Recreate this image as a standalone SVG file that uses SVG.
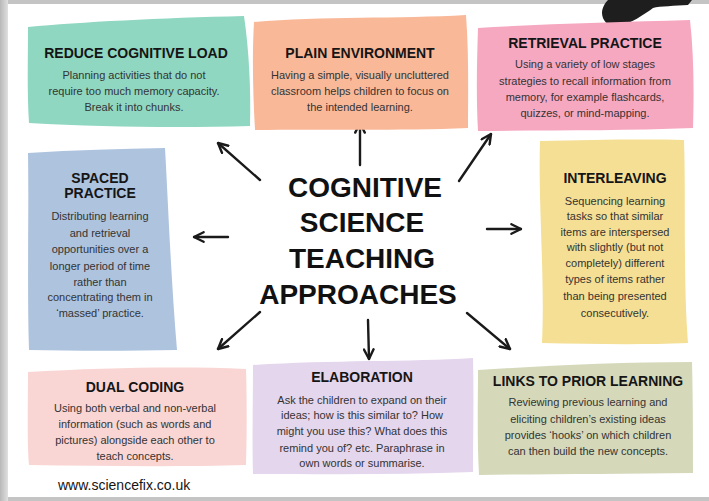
<svg xmlns="http://www.w3.org/2000/svg" width="709" height="501" viewBox="0 0 709 501">
<defs>
<style>
.ttl{font-family:"Liberation Sans",Arial,sans-serif;font-weight:bold;font-size:14px;fill:#151515;text-anchor:middle}
.bd{font-family:"Liberation Sans",Arial,sans-serif;font-size:11px;fill:#333;text-anchor:middle}
.big{font-family:"Liberation Sans",Arial,sans-serif;font-weight:bold;font-size:28px;fill:#111;text-anchor:middle}
.web{font-family:"Liberation Sans",Arial,sans-serif;font-size:14px;fill:#151515}
.arr{fill:none;stroke:#1a1a1a;stroke-width:2.4;stroke-linecap:round;marker-end:url(#ah)}
</style>
<marker id="ah" viewBox="0 0 10 10" refX="9" refY="5" markerWidth="12" markerHeight="12" orient="auto" markerUnits="userSpaceOnUse">
<path d="M1,1 L9,5 L1,9" fill="none" stroke="#1a1a1a" stroke-width="2" stroke-linecap="round" stroke-linejoin="round"/>
</marker>
<linearGradient id="lg" x1="0" y1="0" x2="1" y2="0">
<stop offset="0" stop-color="#b8b8b8"/><stop offset="1" stop-color="#e0e0e0"/>
</linearGradient>
</defs>
<rect x="0" y="0" width="709" height="501" fill="#c4c4c4"/>
<rect x="0" y="0" width="8" height="501" fill="url(#lg)"/>
<rect x="8" y="4" width="701" height="493" fill="#ffffff"/>
<path d="M608,0 L692,0 L688,5 C675,6 660,6 653,8 C645,14 630,24 617,27 C608,27 602,20 602,13 C602,8 605,3 608,0 Z" fill="#1e1e1e"/>

<g id="connectors">
<line class="arr" x1="260" y1="180" x2="218" y2="143"/>
<line class="arr" x1="360" y1="165" x2="360" y2="123"/>
<line class="arr" x1="459" y1="181" x2="491" y2="134"/>
<line class="arr" x1="487" y1="229" x2="521" y2="229"/>
<line class="arr" x1="228" y1="237" x2="194" y2="237"/>
<line class="arr" x1="260" y1="312" x2="218" y2="349"/>
<line class="arr" x1="368" y1="320" x2="369" y2="359"/>
<line class="arr" x1="467" y1="313" x2="510" y2="349"/>
</g>

<g id="center">
<text class="big" x="365" y="197">COGNITIVE</text>
<text class="big" x="362" y="232">SCIENCE</text>
<text class="big" x="362" y="268">TEACHING</text>
<text class="big" x="358" y="304">APPROACHES</text>
</g>

<g id="reduce-cognitive-load">
<path d="M28,27 C80,22 160,18 244,16 C249,50 251,90 250,126 C180,128 100,127 29,123 C27,90 28,60 28,27 Z" fill="#8fd7c0"/>
<text class="ttl" x="136" y="58">REDUCE COGNITIVE LOAD</text>
<text class="bd" x="134" y="79">Planning activities that do not</text>
<text class="bd" x="134" y="95">require too much memory capacity.</text>
<text class="bd" x="134" y="111">Break it into chunks.</text>
</g>

<g id="plain-environment">
<path d="M254,22 C320,16 400,19 466,15 C469,55 468,95 468,128 C400,131 320,129 255,130 C253,95 252,55 254,22 Z" fill="#f9b999"/>
<text class="ttl" x="360" y="58">PLAIN ENVIRONMENT</text>
<text class="bd" x="360" y="79">Having a simple, visually uncluttered</text>
<text class="bd" x="360" y="95">classroom helps children to focus on</text>
<text class="bd" x="360" y="111">the intended learning.</text>
</g>

<g id="retrieval-practice">
<path d="M478,28 C540,24 620,22 690,20 C694,55 694,95 693,128 C620,131 550,130 478,131 C476,95 477,60 478,28 Z" fill="#f7a8c1"/>
<text class="ttl" x="585" y="48">RETRIEVAL PRACTICE</text>
<text class="bd" x="585" y="68">Using a variety of low stages</text>
<text class="bd" x="585" y="85">strategies to recall information from</text>
<text class="bd" x="585" y="101">memory, for example flashcards,</text>
<text class="bd" x="585" y="117">quizzes, or mind-mapping.</text>
</g>

<g id="spaced-practice">
<path d="M28,153 C75,150 120,149 165,148 C168,200 171,280 177,350 C130,351 75,351 29,350 C27,290 29,210 28,153 Z" fill="#aec3de"/>
<text class="ttl" x="100" y="183">SPACED</text>
<text class="ttl" x="100" y="198">PRACTICE</text>
<text class="bd" x="100" y="220">Distributing learning</text>
<text class="bd" x="100" y="237">and retrieval</text>
<text class="bd" x="100" y="253">opportunities over a</text>
<text class="bd" x="100" y="270">longer period of time</text>
<text class="bd" x="100" y="286">rather than</text>
<text class="bd" x="100" y="301">concentrating them in</text>
<text class="bd" x="100" y="317">‘massed’ practice.</text>
</g>

<g id="interleaving">
<path d="M540,141 C590,140 640,139 684,140 C686,200 683,280 688,343 C640,345 590,344 542,343 C545,280 538,200 540,141 Z" fill="#f5df94"/>
<text class="ttl" x="615" y="183">INTERLEAVING</text>
<text class="bd" x="615" y="205">Sequencing learning</text>
<text class="bd" x="615" y="220">tasks so that similar</text>
<text class="bd" x="615" y="236">items are interspersed</text>
<text class="bd" x="615" y="251">with slightly (but not</text>
<text class="bd" x="615" y="267">completely) different</text>
<text class="bd" x="615" y="283">types of items rather</text>
<text class="bd" x="615" y="300">than being presented</text>
<text class="bd" x="615" y="317">consecutively.</text>
</g>

<g id="dual-coding">
<path d="M28,372 C100,368 180,366 246,369 C247,400 247,440 246,465 C180,467 100,466 29,465 C27,440 28,400 28,372 Z" fill="#f9d6d4"/>
<text class="ttl" x="135" y="392">DUAL CODING</text>
<text class="bd" x="135" y="412">Using both verbal and non-verbal</text>
<text class="bd" x="135" y="428">information (such as words and</text>
<text class="bd" x="135" y="444">pictures) alongside each other to</text>
<text class="bd" x="135" y="460">teach concepts.</text>
</g>

<g id="elaboration">
<path d="M253,365 C330,360 410,362 473,358 C474,400 473,440 473,472 C400,475 320,474 253,474 C252,440 253,400 253,365 Z" fill="#e4d6ed"/>
<text class="ttl" x="362" y="382">ELABORATION</text>
<text class="bd" x="362" y="404">Ask the children to expand on their</text>
<text class="bd" x="362" y="419">ideas; how is this similar to? How</text>
<text class="bd" x="362" y="435">might you use this? What does this</text>
<text class="bd" x="362" y="452">remind you of? etc. Paraphrase in</text>
<text class="bd" x="362" y="467">own words or summarise.</text>
</g>

<g id="links-to-prior-learning">
<path d="M478,370 C540,366 620,362 692,362 C693,400 693,440 693,473 C620,474 540,474 479,475 C477,440 478,400 478,370 Z" fill="#d5d9ba"/>
<text class="ttl" x="588" y="386">LINKS TO PRIOR LEARNING</text>
<text class="bd" x="588" y="406">Reviewing previous learning and</text>
<text class="bd" x="588" y="423">eliciting children’s existing ideas</text>
<text class="bd" x="588" y="439">provides ‘hooks’ on which children</text>
<text class="bd" x="588" y="455">can then build the new concepts.</text>
</g>

<text class="web" x="58" y="490">www.sciencefix.co.uk</text>
</svg>
